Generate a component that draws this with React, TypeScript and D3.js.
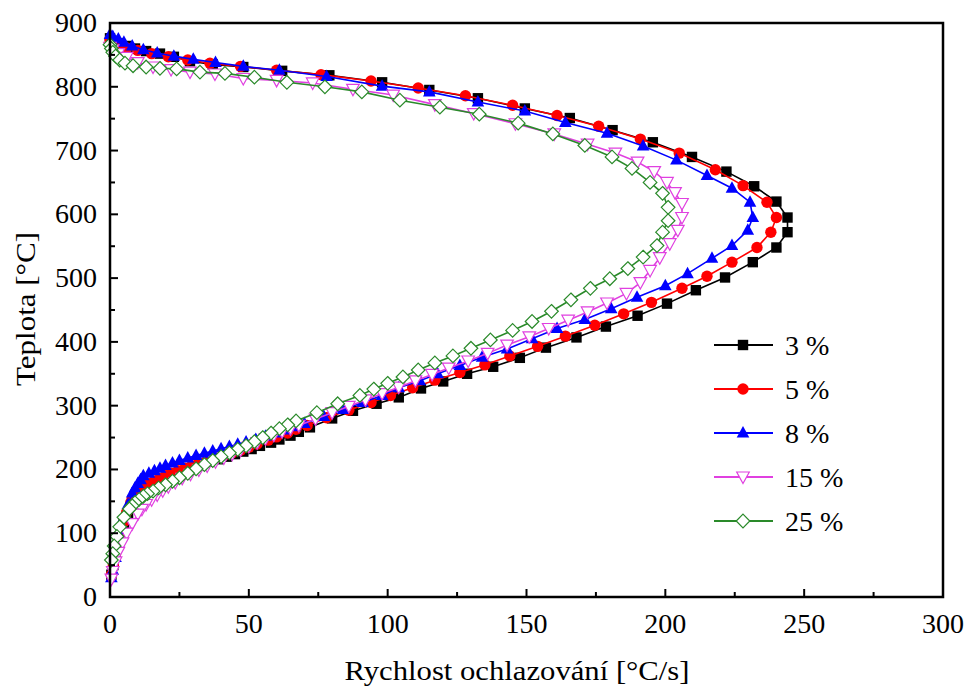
import * as d3 from "d3";

// [cooling rate °C/s, temperature °C], top to bottom
const s3: [number, number][] = [
  [0, 876], [1, 872], [3, 868], [6, 864], [9, 860], [13, 856], [18, 852], [23, 847], [28.8, 840],
  [37, 835], [48, 831], [62, 825], [79, 818], [98, 807], [115, 795], [132.5, 782], [149.4, 766],
  [165.6, 751], [181, 732], [195.5, 713], [209.6, 690], [222, 667], [232, 644], [240, 620],
  [244, 595], [244, 572], [240, 548], [231.5, 525], [221.5, 501], [211, 481], [200.6, 460],
  [190, 441], [178.6, 424], [168, 407], [157, 391], [147.6, 375], [138, 361], [128.6, 350],
  [120, 338], [112, 327], [104, 313], [96, 303], [87.5, 292], [80, 280], [72, 266], [68, 259],
  [65, 253], [61, 247], [58, 242], [54, 237], [51, 232], [48, 228], [45, 224], [42, 220], [39, 216],
  [36, 212], [33, 208], [30, 204], [28, 200], [25, 196], [23, 192], [21, 188], [19, 184], [17, 180],
  [15, 175], [13.5, 170], [12, 165], [11, 160], [10, 155], [9, 149], [8, 143], [6.5, 130], [5, 115],
  [4, 100], [3, 85], [2, 68], [1.2, 50], [0.5, 35],
];
const s5: [number, number][] = [
  [0, 874], [1, 870], [3, 866], [6, 861], [10, 857], [15, 852], [21, 847], [28, 842], [36, 837],
  [47, 832], [60, 826], [76, 819], [94, 809], [111, 798], [128, 786], [145, 771], [161, 755],
  [176, 738], [191, 718], [205, 696], [218, 670], [228, 645], [236.6, 619], [240, 595], [238, 572],
  [233, 548], [224, 525], [215, 503], [206, 484], [195, 462], [185, 444], [174.6, 426], [164, 409],
  [154, 393], [144, 378], [135, 364], [126, 352], [117, 340], [109, 328], [101, 316], [94, 305],
  [86, 293], [78, 281], [71, 269], [67, 263], [64, 257], [60, 251], [57, 246], [53, 240], [50, 235],
  [47, 230], [44, 226], [41, 222], [38, 218], [35, 214], [32, 210], [29.5, 206], [27, 202],
  [24.5, 198], [22, 194], [20, 190], [18, 186], [16, 182], [14, 178], [12.5, 174], [11, 170],
  [10, 165], [9, 160], [8, 154], [7.5, 148], [6, 133], [5, 118], [4, 102], [3, 86], [2, 68],
  [1.2, 50], [0.5, 35],
];
const s8: [number, number][] = [
  [0, 882], [1, 879], [3, 875], [5, 870], [8, 864], [12, 858], [17, 853], [23, 848], [30, 843],
  [38, 838], [48, 832], [61, 826], [78, 816], [98, 801], [115, 792], [132.5, 776], [149.4, 762],
  [164, 744], [179, 727], [192, 707], [204, 685], [215, 661], [224, 641], [230.5, 619], [231.5, 595],
  [229.7, 575], [224, 551], [216.8, 531], [208, 507], [200, 488], [189.8, 470], [180.5, 452],
  [171, 435], [161, 421], [152, 405], [143, 389], [134, 376], [126, 363], [118, 350], [111.6, 339],
  [104, 328], [98, 316], [91, 305], [84, 294], [77, 283], [70, 272], [66.5, 267], [63, 262],
  [59.5, 257], [56, 252], [52.5, 247], [49, 243], [46, 239.5], [43, 236], [40, 232.5], [37, 229],
  [34, 225.5], [31, 222], [28, 218], [25, 214], [22.5, 210], [20, 206], [18, 202], [16, 198],
  [14, 194], [12, 190], [11, 184], [10, 178], [9, 171], [8, 163], [6.5, 145], [5, 125], [4, 105],
  [3, 85], [2, 62], [1, 42], [0.5, 30],
];
const s15: [number, number][] = [
  [0, 862], [1, 858], [3, 852], [6, 846], [10, 838], [15.5, 831], [22, 827], [28.8, 823],
  [37.8, 820], [48, 813], [60, 810], [73, 806], [87.5, 796], [102, 787], [117, 772], [131, 758],
  [146, 742], [160, 726], [172, 710], [182, 696], [190, 682], [196, 667], [200.6, 650], [203.5, 634],
  [206, 617], [206, 595], [204.5, 575], [201.6, 554], [198, 532], [194.5, 512], [191, 493], [186, 476],
  [179, 461], [172, 447], [165, 434], [158, 421], [151, 408], [143, 395], [136, 382], [129, 370],
  [122, 359], [116, 349], [110, 339], [104, 329], [98, 319], [92, 309], [86, 299], [80, 289],
  [74, 279], [68, 269], [65, 264], [62, 259], [59, 253.5], [56, 248], [53, 242], [50, 236], [47, 230],
  [44, 224], [41, 218], [38, 212], [35, 205.5], [32, 199], [29, 192.5], [26, 186], [23.5, 179.5],
  [21, 173], [19, 166.5], [17, 160], [15, 152.5], [13, 145], [11.5, 137.5], [10, 130], [8, 115],
  [6, 100], [4.5, 85], [3, 70], [2, 55], [1, 40], [0.5, 28],
];
const s25: [number, number][] = [
  [0, 866], [0.5, 860], [1, 854], [2, 848], [3.5, 842], [5.4, 837], [8.3, 833], [13, 831], [18, 829],
  [24, 828], [32.4, 823], [41.4, 821], [52, 815], [63.7, 807], [77.4, 800], [90.7, 792], [104.4, 779],
  [118.8, 768], [133, 757], [147, 743], [159.5, 726], [171, 708], [180.8, 690], [188, 672],
  [194.5, 650], [199, 633], [201, 611], [201, 590], [199, 572], [197, 551], [192, 533], [186.5, 515],
  [180, 499], [173, 484], [166, 466], [159, 448], [152, 432], [145, 418], [137, 403], [130, 390],
  [123.5, 378], [117, 367], [111, 356], [105.5, 345], [100, 335], [95, 326], [90, 316], [82, 303],
  [74.5, 289], [67, 276], [64, 270], [61, 264], [58, 257], [55, 250], [52, 243.5], [49, 237],
  [46, 231.5], [43, 226], [40, 220], [37, 214], [34, 207.5], [31, 201], [28, 194], [25, 187],
  [22.5, 181.5], [20, 176], [17.5, 171], [15.5, 166], [13.5, 162], [12, 158], [10.5, 153], [9, 148],
  [8, 143], [7, 138], [5, 125], [3.5, 110], [2.5, 95], [1.5, 80], [1, 68], [0.5, 58],
];

const labels = ["3 %", "5 %", "8 %", "15 %", "25 %"];
const colors = ["#000000", "#ff0000", "#0000ff", "#e040e0", "#2a8a2a"];
const shapes = ["square", "circle", "triangle", "triangleDown", "diamond"];
const allSeries = [s3, s5, s8, s15, s25];

const xTicks = [0, 50, 100, 150, 200, 250, 300];
const yTicks = [0, 100, 200, 300, 400, 500, 600, 700, 800, 900];

const W = 968;
const H = 687;
const m = { left: 110, right: 25, top: 23, bottom: 90 };
const font = '"Liberation Serif", "Times New Roman", serif';

function Marker({ shape, x, y, color }: { shape: string; x: number; y: number; color: string }) {
  if (shape === "square")
    return <rect x={x - 5.2} y={y - 5.2} width={10.4} height={10.4} fill={color} />;
  if (shape === "circle") return <circle cx={x} cy={y} r={5.7} fill={color} />;
  if (shape === "triangle")
    return <path d={`M${x},${y - 7}L${x + 6.3},${y + 4.5}L${x - 6.3},${y + 4.5}Z`} fill={color} />;
  if (shape === "triangleDown")
    return (
      <path d={`M${x},${y + 6.5}L${x + 6.3},${y - 5}L${x - 6.3},${y - 5}Z`} fill="white" stroke={color} strokeWidth={1.2} />
    );
  return (
    <path d={`M${x},${y - 6.8}L${x + 6.8},${y}L${x},${y + 6.8}L${x - 6.8},${y}Z`} fill="white" stroke={color} strokeWidth={1.2} />
  );
}

export default function App() {
  const x = d3.scaleLinear().domain([0, 300]).range([m.left, W - m.right]);
  const y = d3.scaleLinear().domain([0, 900]).range([H - m.bottom, m.top]);
  const line = d3
    .line<[number, number]>()
    .x((d) => x(d[0]))
    .y((d) => y(d[1]));

  const x0 = m.left;
  const x1 = W - m.right;
  const y0 = H - m.bottom;
  const y1 = m.top;
  const ts = { fontFamily: font, fontSize: "28px" };

  return (
    <svg width={W} height={H} style={{ position: "absolute", left: 0, top: 0, background: "white" }}>
      {/* series */}
      {allSeries.map((s, i) => (
        <g key={labels[i]}>
          <path d={line(s) || ""} fill="none" stroke={colors[i]} strokeWidth={1.6} />
          {s.map((d, j) => (
            <Marker key={j} shape={shapes[i]} x={x(d[0])} y={y(d[1])} color={colors[i]} />
          ))}
        </g>
      ))}

      {/* frame */}
      <rect x={x0} y={y1} width={x1 - x0} height={y0 - y1} fill="none" stroke="black" strokeWidth={2.5} />

      {/* x ticks */}
      {xTicks.map((t) => (
        <g key={"x" + t}>
          <line x1={x(t)} x2={x(t)} y1={y0} y2={y0 - 8} stroke="black" strokeWidth={2} />
          <text x={x(t)} y={y0 + 36} textAnchor="middle" style={ts}>
            {t}
          </text>
        </g>
      ))}
      {xTicks.slice(0, -1).map((t) => (
        <line key={"xm" + t} x1={x(t + 25)} x2={x(t + 25)} y1={y0} y2={y0 - 5} stroke="black" strokeWidth={2} />
      ))}

      {/* y ticks */}
      {yTicks.map((t) => (
        <g key={"y" + t}>
          <line x1={x0} x2={x0 + 8} y1={y(t)} y2={y(t)} stroke="black" strokeWidth={2} />
          <text x={x0 - 13} y={y(t) + 9} textAnchor="end" style={ts}>
            {t}
          </text>
        </g>
      ))}
      {yTicks.slice(0, -1).map((t) => (
        <line key={"ym" + t} x1={x0} x2={x0 + 5} y1={y(t + 50)} y2={y(t + 50)} stroke="black" strokeWidth={2} />
      ))}

      {/* axis titles */}
      <text x={517} y={680} textAnchor="middle" style={ts} textLength={345} lengthAdjust="spacingAndGlyphs">
        Rychlost ochlazování [°C/s]
      </text>
      <text
        transform={`translate(35, 309) rotate(-90)`}
        textAnchor="middle"
        style={ts}
        textLength={154}
        lengthAdjust="spacingAndGlyphs"
      >
        Teplota [°C]
      </text>

      {/* legend */}
      {labels.map((l, i) => {
        const ly = 345 + i * 44;
        return (
          <g key={"lg" + l}>
            <line x1={714} x2={773} y1={ly} y2={ly} stroke={colors[i]} strokeWidth={1.8} />
            <Marker shape={shapes[i]} x={743} y={ly} color={colors[i]} />
            <text x={785} y={ly + 10} style={ts}>
              {l}
            </text>
          </g>
        );
      })}
    </svg>
  );
}
